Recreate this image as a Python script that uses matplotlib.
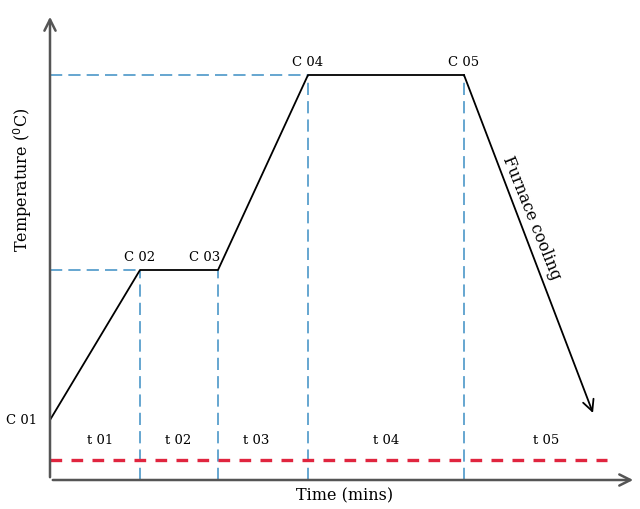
import matplotlib.pyplot as plt

# ── Schedule data (arbitrary units, origin at axes corner) ──
time = [0, 90, 168, 258, 414]
temp = [60, 210, 210, 405, 405]
cool_end = (543, 67)           # end of furnace cooling arrow
point_labels = ['C 01', 'C 02', 'C 03', 'C 04', 'C 05']
stage_labels = ['t 01', 't 02', 't 03', 't 04', 't 05']
stage_mid = [50, 128, 206, 336, 496]
base_level = 20
base_end = 557

BLUE = '#3c8ec4'
RED = '#e0253f'
AXIS = '#555555'
FONT = 'DejaVu Serif'

fig = plt.figure(figsize=(6.4, 5.09), dpi=100)
ax = fig.add_axes([50 / 640, 29 / 509, 590 / 640, 470 / 509])
ax.set_xlim(0, 590)
ax.set_ylim(0, 470)
ax.axis('off')

# axes with arrow heads
ax.annotate('', xy=(0, 466), xytext=(0, 0),
            arrowprops=dict(arrowstyle='->', color=AXIS, lw=1.8, mutation_scale=20))
ax.annotate('', xy=(586, 0), xytext=(0, 0),
            arrowprops=dict(arrowstyle='->', color=AXIS, lw=1.8, mutation_scale=20))

# guide lines
ax.plot([0, time[3]], [temp[3], temp[3]], ls=(0, (8, 4)), color=BLUE, lw=1.1)
ax.plot([0, time[1]], [temp[1], temp[1]], ls=(0, (8, 4)), color=BLUE, lw=1.1)
for t, c in zip(time[1:], temp[1:]):
    ax.plot([t, t], [0, c], ls=(0, (8, 4)), color=BLUE, lw=1.1)

# red base line
ax.plot([0, base_end], [base_level, base_level], ls=(0, (3.5, 2.8)), color=RED, lw=2.4)

# heat treatment curve
ax.plot(time, temp, color='black', lw=1.3)
ax.annotate('', xy=cool_end, xytext=(time[4], temp[4]),
            arrowprops=dict(arrowstyle='->', color='black', lw=1.3, mutation_scale=20,
                            shrinkA=0, shrinkB=0))

# point labels
ax.text(-13, temp[0], point_labels[0], ha='right', va='center', fontsize=9.5, family=FONT)
ax.text(time[1], temp[1] + 6, point_labels[1], ha='center', va='bottom', fontsize=9.5, family=FONT)
ax.text(time[2] - 13, temp[2] + 6, point_labels[2], ha='center', va='bottom', fontsize=9.5, family=FONT)
ax.text(time[3], temp[3] + 6, point_labels[3], ha='center', va='bottom', fontsize=9.5, family=FONT)
ax.text(time[4], temp[4] + 6, point_labels[4], ha='center', va='bottom', fontsize=9.5, family=FONT)

for x, s in zip(stage_mid, stage_labels):
    ax.text(x, 40, s, ha='center', va='center', fontsize=9.5, family=FONT)

ax.text(482, 262, 'Furnace cooling', rotation=-68, ha='center', va='center',
        fontsize=11.5, family=FONT)

ax.text(295, -16, 'Time (mins)', ha='center', va='center', fontsize=11.5, family=FONT)
ax.text(-27, 300, r'Temperature ($^{0}$C)', rotation=90, ha='center', va='center',
        fontsize=11.5, family=FONT)

fig.savefig('out.png', dpi=100)
